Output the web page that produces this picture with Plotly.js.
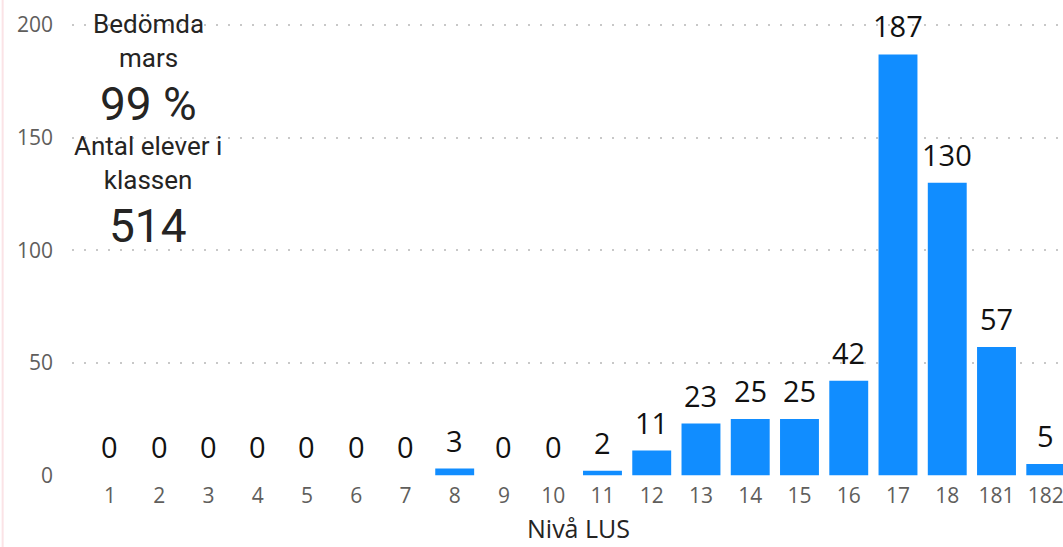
<!DOCTYPE html>
<html>
<head>
<meta charset="utf-8">
<script src="https://cdn.plot.ly/plotly-3.0.1.min.js"></script>
<style>html,body{margin:0;padding:0;background:#fff;}#chart{width:1063px;height:547px;}</style>
</head>
<body>
<div id="chart"></div>
<script>
const categories = ["1","2","3","4","5","6","7","8","9","10","11","12","13","14","15","16","17","18","181","182"];
const counts = [0,0,0,0,0,0,0,3,0,0,2,11,23,25,25,42,187,130,57,5];
const yTicks = [0,50,100,150,200];
const cardLines = [
  {text: "Bedömda<br>mars", size: 26, y: 0.962},
  {text: "99 %", size: 46, y: 0.822},
  {text: "Antal elever i<br>klassen", size: 26, y: 0.692},
  {text: "514", size: 46, y: 0.552}
];
const xTitle = "Nivå LUS";

const labelAnnotations = categories.map((c, i) => ({
  x: i, y: counts[i], xref: 'x', yref: 'y',
  text: String(counts[i]), showarrow: false,
  yanchor: 'bottom', yshift: 7,
  font: {family: 'Open Sans, sans-serif', size: 29, color: '#111111'}
}));

const cardAnnotations = cardLines.map(l => ({
  xref: 'paper', yref: 'paper', x: 0.0767, y: l.y,
  xanchor: 'center', yanchor: 'middle', showarrow: false,
  text: l.text, align: 'center',
  font: {family: 'Roboto, sans-serif', size: l.size, color: '#252423'}
}));

const titleAnnotation = {
  xref: 'paper', yref: 'paper', x: 0.5116, y: -0.116,
  xanchor: 'center', yanchor: 'middle', showarrow: false,
  text: xTitle,
  font: {family: 'Open Sans, sans-serif', size: 25, color: '#252423'}
};

const trace = {
  type: 'bar', x: categories, y: counts,
  marker: {color: '#118DFF', line: {width: 0}},
  hoverinfo: 'x+y'
};

const layout = {
  width: 1063, height: 547,
  margin: {l: 72, r: 0, t: 24, b: 71, pad: 0},
  paper_bgcolor: '#ffffff', plot_bgcolor: '#ffffff',
  bargap: 0.21,
  showlegend: false,
  xaxis: {
    type: 'category', range: [-0.77, 19.35],
    showgrid: false, zeroline: false, showline: false, ticks: '',
    tickfont: {family: 'Open Sans, sans-serif', size: 21, color: '#605E5C'},
    ticklabelstandoff: 5,
    fixedrange: true
  },
  yaxis: {
    range: [-0.3, 200.5],
    tickvals: yTicks, ticktext: yTicks.map(String),
    showgrid: true, gridcolor: '#c8c8c8', gridwidth: 2, griddash: '2px,10px',
    zeroline: false, showline: false, ticks: '',
    tickfont: {family: 'Open Sans, sans-serif', size: 21, color: '#605E5C'},
    ticklabelstandoff: 18,
    fixedrange: true
  },
  annotations: [...labelAnnotations, ...cardAnnotations, titleAnnotation],
  shapes: [{type: 'line', xref: 'paper', yref: 'paper', x0: -0.07, x1: -0.07, y0: -0.16, y1: 1.06,
            line: {color: '#fbe3e6', width: 2}}]
};

Plotly.newPlot('chart', [trace], layout, {displayModeBar: false, staticPlot: true});
</script>
</body>
</html>
